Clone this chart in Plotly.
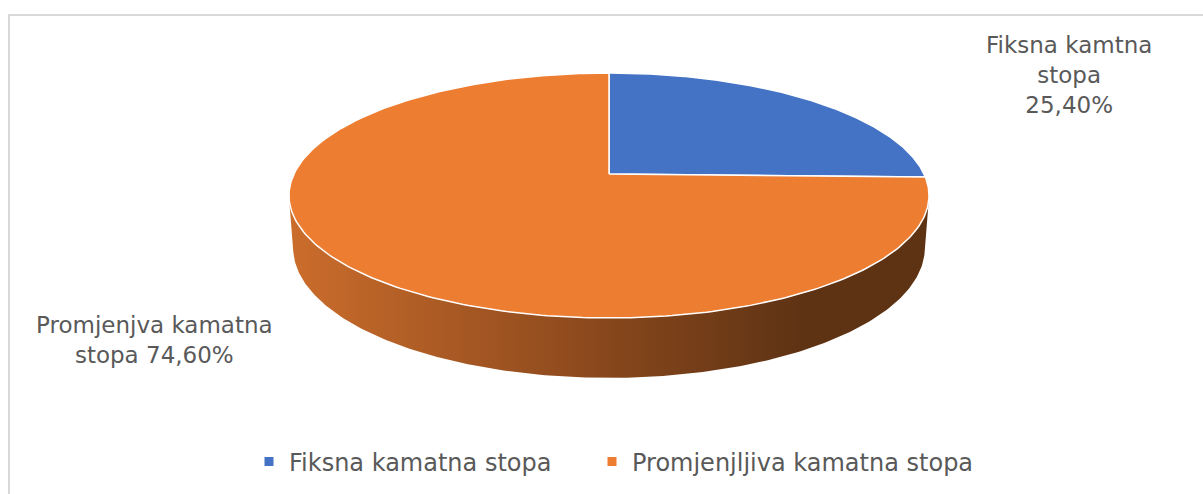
import numpy as np
import plotly.graph_objects as go

# ---------------- data ----------------
categories = ["Fiksna kamatna stopa", "Promjenjljiva kamatna stopa"]
values = [25.40, 74.60]
label_texts = ["Fiksna kamtna<br>stopa<br>25,40%", "Promjenjva kamatna<br>stopa 74,60%"]

# ---------------- style ----------------
colors = ["#4472C4", "#ED7D31"]
side_scales = [
    [[0, "#2F4F8A"], [1, "#1E3560"]],
    [[0, "#CB6D2C"], [0.45, "#8E4A1D"], [0.8, "#5E3314"], [1, "#5E3314"]],
]
label_pos = [(1069, 75), (154, 340)]   # centre of each label block
legend_x = [249, 592]                   # left edge of each legend (px)
FONT = "DejaVu Sans"
FSIZE = 23
LEG_FSIZE = 24
TXT = "#595959"

W, H = 1203, 494
CX, CY = 609, 174                 # screen position of the pie centre
ALPHA = np.radians(22.14)         # tilt of the pie
DIST, FOC, THICK = 5.278, 1662.7, 0.178
s, c = np.sin(ALPHA), np.cos(ALPHA)


def project(phi, h):
    x = np.sin(phi)
    d = np.cos(phi)
    v = d * s + h * c
    w = DIST + d * c - h * s
    return CX + FOC * x / w, CY - FOC * v / w


total = sum(values)
bounds = np.concatenate([[0], np.cumsum(values) / total * 2 * np.pi])
vis0 = np.arccos(-1.0 / (DIST * c))
vis1 = 2 * np.pi - vis0

fig = go.Figure()

# side walls (visible front part of the cylinder)
for i in range(len(values)):
    a, b = max(bounds[i], vis0), min(bounds[i + 1], vis1)
    if b <= a:
        continue
    ph = np.linspace(a, b, 200)
    xt, yt = project(ph, 0.0)
    xb, yb = project(ph[::-1], -THICK)
    fig.add_trace(go.Scatter(
        x=np.concatenate([xt, xb, xt[:1]]), y=np.concatenate([yt, yb, yt[:1]]),
        mode="lines", fill="toself", line=dict(width=0),
        fillgradient=dict(type="horizontal", colorscale=side_scales[i]),
        hoverinfo="skip", showlegend=False))

# top faces
for i in range(len(values)):
    ph = np.linspace(bounds[i], bounds[i + 1], 300)
    xa, ya = project(ph, 0.0)
    fig.add_trace(go.Scatter(
        x=np.concatenate([[CX], xa, [CX]]), y=np.concatenate([[CY], ya, [CY]]),
        mode="lines", fill="toself", fillcolor=colors[i],
        line=dict(color="white", width=1.5),
        hoverinfo="skip", showlegend=False))

# legend entries (one legend each, so they can be spaced like the original)
legend_names = ["legend", "legend2"]
for i, cat in enumerate(categories):
    fig.add_trace(go.Scatter(
        x=[None], y=[None], mode="markers", name=cat, legend=legend_names[i],
        marker=dict(symbol="square", size=9, color=colors[i])))

# data labels
for i, txt in enumerate(label_texts):
    fig.add_annotation(x=label_pos[i][0], y=label_pos[i][1], text=txt,
                       showarrow=False, xanchor="center", yanchor="middle",
                       font=dict(family=FONT, size=FSIZE, color=TXT))

# chart border
fig.add_shape(type="rect", x0=9, x1=1215, y0=15, y1=520,
              line=dict(color="#D9D9D9", width=2), layer="below")

leg_common = dict(orientation="h", xanchor="left", y=(H - 462) / H, yanchor="middle",
                  font=dict(family=FONT, size=LEG_FSIZE, color=TXT),
                  bgcolor="rgba(0,0,0,0)")
fig.update_layout(
    width=W, height=H, margin=dict(l=0, r=0, t=0, b=0),
    paper_bgcolor="white", plot_bgcolor="white",
    xaxis=dict(range=[0, W], visible=False, fixedrange=True),
    yaxis=dict(range=[H, 0], visible=False, fixedrange=True),
    showlegend=True,
    legend=dict(x=legend_x[0] / W, **leg_common),
    legend2=dict(x=legend_x[1] / W, **leg_common),
)

fig.write_html("out.html", config={"displayModeBar": False},
               post_script="document.body.style.margin='0';")
